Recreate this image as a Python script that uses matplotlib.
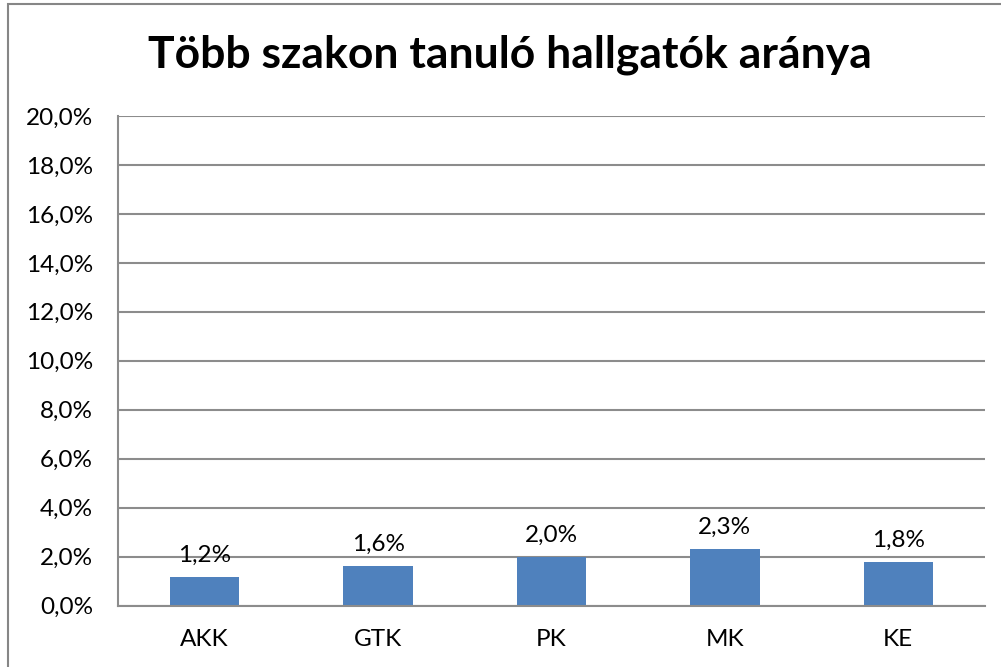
import matplotlib
matplotlib.use("Agg")
import matplotlib.pyplot as plt
from matplotlib.patches import Rectangle
from matplotlib.ticker import FuncFormatter

categories = ["AKK", "GTK", "PK", "MK", "KE"]
values = [1.17, 1.62, 1.97, 2.32, 1.76]
labels = ["1,2%", "1,6%", "2,0%", "2,3%", "1,8%"]
yticks = [0, 2, 4, 6, 8, 10, 12, 14, 16, 18, 20]
title = "Több szakon tanuló hallgatók aránya"

plt.rcParams['font.family'] = ['Lato', 'DejaVu Sans']

W, H = 1001, 667
fig = plt.figure(figsize=(W / 100, H / 100), dpi=100)
fig.patch.set_facecolor("white")

# outer border (left and top visible)
fig.add_artist(Rectangle((8 / W, -0.1), 1.2, (667 - 4) / H + 0.1,
                         transform=fig.transFigure, fill=False,
                         edgecolor="#868686", linewidth=1.5))

ax = fig.add_axes([118 / W, (H - 605.5) / H, (985 - 118) / W, (605.5 - 116) / H])
x = list(range(len(categories)))
ax.bar(x, values, width=0.4, color="#4F81BD", zorder=3)
ax.set_xlim(-0.5, len(categories) - 0.5)
ax.set_ylim(0, 20)
ax.set_yticks(yticks)
ax.yaxis.set_major_formatter(FuncFormatter(lambda v, p: f"{v:.1f}%".replace(".", ",")))
ax.set_xticks(x)
ax.set_xticklabels(categories)
ax.tick_params(axis="both", length=0, labelsize=17.5, colors="black")
ax.tick_params(axis="x", pad=17)
ax.tick_params(axis="y", pad=18)
ax.grid(axis="y", color="#8c8c8c", linewidth=1.5, zorder=0)
for s in ["top", "right"]:
    ax.spines[s].set_visible(False)
for s in ["left", "bottom"]:
    ax.spines[s].set_color("#8c8c8c")
    ax.spines[s].set_linewidth(1.5)
    ax.spines[s].set_zorder(4)

for xi, v, lab in zip(x, values, labels):
    ax.annotate(lab, (xi, v), xytext=(0, 8), textcoords="offset points",
                ha="center", va="bottom", fontsize=17.5, zorder=5)

fig.text(510 / W, 1 - 55 / H, title, ha="center", va="center",
         fontsize=32, fontweight="bold")

fig.savefig("out.png", dpi=100)
